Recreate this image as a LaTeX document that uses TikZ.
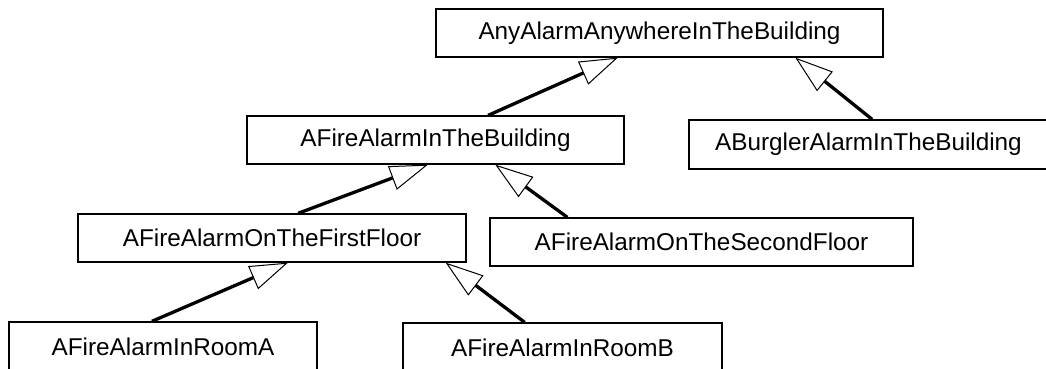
\documentclass[tikz,border=0pt]{standalone}
\usepackage{fontspec}
\setmainfont{Liberation Sans}
\usepackage{tikz}
\usetikzlibrary{arrows.meta, calc}
\tikzset{
  box/.style={draw, line width=1.3pt, inner sep=0pt, minimum height=48pt, font=\fontsize{24.3}{28}\selectfont},
  arr/.style={{Triangle[open, fill=white, length=38pt, width=25pt, line width=1pt]}-, line width=3.3pt},
}
\begin{document}
\begin{tikzpicture}[x=1pt, y=-1pt]
  \useasboundingbox (0,0) rectangle (1046,369);
  \node[box, minimum width=447pt] (any) at (659.5,33) {AnyAlarmAnywhereInTheBuilding};
  \node[box, minimum width=377pt] (fire) at (435.5,140) {AFireAlarmInTheBuilding};
  \node[box, minimum width=359pt, minimum height=49pt] (burg) at (868.5,144.5) {ABurglerAlarmInTheBuilding};
  \node[box, minimum width=388pt] (first) at (272,238) {AFireAlarmOnTheFirstFloor};
  \node[box, minimum width=423pt] (second) at (701.5,242) {AFireAlarmOnTheSecondFloor};
  \node[box, minimum width=308pt, minimum height=50pt] (rooma) at (163,347) {AFireAlarmInRoomA};
  \node[box, minimum width=319pt, minimum height=50pt] (roomb) at (562.5,348) {AFireAlarmInRoomB};
  \draw[arr] ($(any.south west)!0.407!(any.south east)$) -- ($(fire.north west)!0.639!(fire.north east)$);
  \draw[arr] ($(any.south west)!0.803!(any.south east)$) -- ($(burg.north west)!0.51!(burg.north east)$);
  \draw[arr] ($(fire.south west)!0.48!(fire.south east)$) -- ($(first.north west)!0.567!(first.north east)$);
  \draw[arr] ($(fire.south west)!0.658!(fire.south east)$) -- ($(second.north west)!0.184!(second.north east)$);
  \draw[arr] ($(first.south west)!0.541!(first.south east)$) -- ($(rooma.north west)!0.464!(rooma.north east)$);
  \draw[arr] ($(first.south west)!0.946!(first.south east)$) -- ($(roomb.north west)!0.382!(roomb.north east)$);
\end{tikzpicture}
\end{document}
